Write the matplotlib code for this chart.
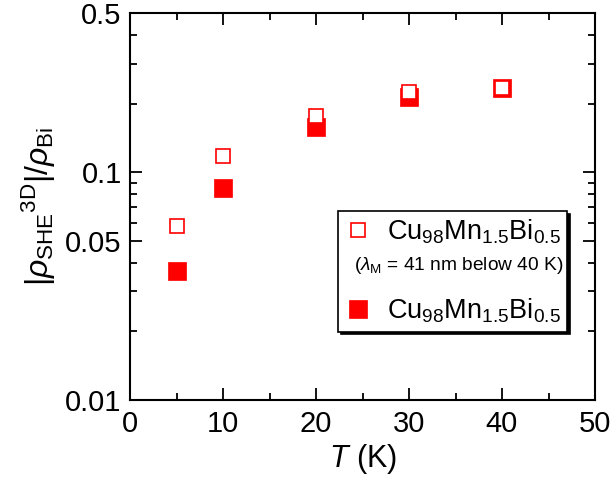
import matplotlib
matplotlib.use("Agg")
import matplotlib.pyplot as plt
from matplotlib.lines import Line2D
from matplotlib.ticker import FixedLocator, NullFormatter, FixedFormatter

plt.rcParams['font.family'] = ['Liberation Sans', 'DejaVu Sans']
plt.rcParams['mathtext.fontset'] = 'custom'
plt.rcParams['mathtext.rm'] = 'Liberation Sans'
plt.rcParams['mathtext.it'] = 'Liberation Sans:italic'
plt.rcParams['mathtext.bf'] = 'Liberation Sans:bold'

# Data
temps = [5, 10, 20, 30, 40]
open_vals = [0.058, 0.118, 0.176, 0.224, 0.235]
filled_vals = [0.037, 0.085, 0.158, 0.214, 0.235]
x_ticks = [0, 10, 20, 30, 40, 50]
y_ticks = [0.01, 0.05, 0.1, 0.5]
y_tick_labels = ['0.01', '0.05', '0.1', '0.5']
series_label = r'Cu$_{98}$Mn$_{1.5}$Bi$_{0.5}$'
note_label = r'($\lambda_{\rm M}$ = 41 nm below 40 K)'

fig = plt.figure(figsize=(6.15, 4.82), dpi=100)
ax = fig.add_axes([130/615, 82/482, 465/615, 387/482])

red = '#ff0000'
ax.plot(temps, filled_vals, linestyle='none', marker='s', markersize=13.5,
        markerfacecolor=red, markeredgecolor=red, markeredgewidth=0.5, zorder=3)
ax.plot(temps, open_vals, linestyle='none', marker='s', markersize=9.5,
        markerfacecolor='white', markeredgecolor=red, markeredgewidth=1.2, zorder=4)

ax.set_yscale('log')
ax.set_xlim(0, 50)
ax.set_ylim(0.01, 0.5)
ax.xaxis.set_major_locator(FixedLocator(x_ticks))
ax.xaxis.set_minor_locator(FixedLocator([5, 15, 25, 35, 45]))
ax.yaxis.set_major_locator(FixedLocator(y_ticks))
ax.yaxis.set_major_formatter(FixedFormatter(y_tick_labels))
ax.yaxis.set_minor_locator(FixedLocator([0.02, 0.03, 0.04, 0.06, 0.07, 0.08, 0.09, 0.2, 0.3, 0.4]))
ax.yaxis.set_minor_formatter(NullFormatter())

for s in ax.spines.values():
    s.set_linewidth(1.5)
ax.tick_params(which='both', direction='in', top=True, right=True, width=1.3, labelsize=21)
ax.tick_params(axis='x', which='major', length=8.5, pad=7)
ax.tick_params(axis='y', which='major', length=8.5, pad=6)
ax.tick_params(which='minor', length=5)

ax.set_xlabel(r'$T$ (K)', fontsize=22, labelpad=3)
ax.set_ylabel(r'$|{\rho_{\rm SHE}}^{\rm 3D}|/\rho_{\rm Bi}$', fontsize=23, labelpad=5.5)

h_open = Line2D([], [], linestyle='none', marker='s', markersize=9.5,
                markerfacecolor='white', markeredgecolor=red, markeredgewidth=1.2)
h_blank = Line2D([], [], linestyle='none')
h_filled = Line2D([], [], linestyle='none', marker='s', markersize=13.5,
                  markerfacecolor=red, markeredgecolor=red, markeredgewidth=0.5)
leg = ax.legend([h_open, h_blank, h_filled], [series_label, ' ', series_label],
                loc='upper left', bbox_to_anchor=(208/465, 1 - 198/387),
                fontsize=19.5, frameon=True, fancybox=False, edgecolor='black',
                framealpha=1, shadow={'color': 'black', 'alpha': 1},
                handlelength=1.0, handletextpad=0.55, borderpad=0.25, labelspacing=0.35,
                borderaxespad=0)
leg.get_frame().set_linewidth(1.2)
leg.get_texts()[1].set_fontsize(24)
ax.text(224/465, 1 - 252/387, note_label, transform=ax.transAxes,
        fontsize=13.8, ha='left', va='center', zorder=10)

fig.savefig('out.png', dpi=100)
